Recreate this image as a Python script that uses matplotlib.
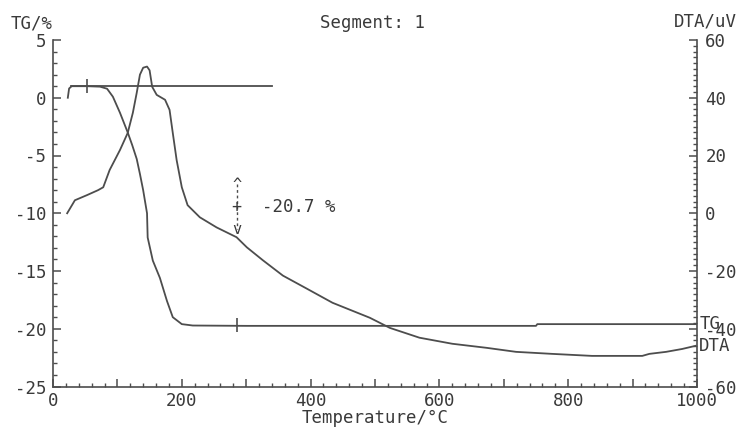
import matplotlib
import matplotlib.pyplot as plt
from matplotlib.ticker import MultipleLocator, FuncFormatter

matplotlib.use("Agg")

# TG curve (temperature in C, mass change in %)
tg_temp = [23, 25, 29, 53, 73, 84, 93, 104, 116, 123, 130, 135, 140, 146, 147,
           155, 166, 177, 186, 200, 217, 300, 500, 750, 752, 1000]
tg_val = [0.0, 0.8, 1.0, 1.0, 0.96, 0.78, 0.09, -1.3, -3.0, -4.1, -5.3, -6.6,
          -8.0, -10.0, -12.1, -14.1, -15.6, -17.6, -19.0, -19.6, -19.72, -19.75,
          -19.75, -19.75, -19.6, -19.6]

# DTA curve (temperature in C, signal in uV)
dta_temp = [22, 34, 53, 70, 78, 88, 104, 116, 124, 130, 135, 140, 146, 150, 154,
            161, 174, 181, 186, 192, 200, 209, 228, 254, 285, 301, 326, 357, 394,
            434, 492, 523, 569, 620, 673, 719, 775, 837, 915, 926, 952, 977, 998]
dta_val = [0.0, 4.5, 6.3, 8.0, 9.0, 15.0, 21.9, 27.8, 34.8, 41.7, 48.0, 50.4, 50.8,
           49.5, 43.8, 41.0, 39.3, 35.8, 27.8, 18.4, 9.0, 2.8, -1.4, -4.9, -8.3,
           -11.8, -16.3, -21.6, -26.1, -31.0, -36.2, -39.7, -43.1, -45.2, -46.6,
           -48.0, -48.7, -49.4, -49.4, -48.7, -48.0, -47.0, -45.9]

# step evaluation: start level line and the two marker points
step_temp = [28, 340]
step_tg = [1.0, 1.0]
mark_temp = [53, 285]
mark_tg = [1.0, -19.7]
step_label = "-20.7 %"
step_arrow_temp = 285
step_arrow_tg = [-7.5, -11.4]

line_c = "#4d4d4d"
text_c = "#3a3a3a"
fs = 12.5
plt.rcParams['font.family'] = ['DejaVu Sans Mono']
plt.rcParams['axes.unicode_minus'] = False

W, H = 741, 428
fig = plt.figure(figsize=(W / 100, H / 100), dpi=100)
ax = fig.add_axes([53 / W, 41.5 / H, 644 / W, 346.5 / H])
ax2 = ax.twinx()

ax.plot(tg_temp, tg_val, color=line_c, lw=1.3)
ax.plot(step_temp, step_tg, color=line_c, lw=1.3)
ax.plot(mark_temp, mark_tg, ls="none", marker="|", ms=10, mew=1.2, color=line_c)
ax2.plot(dta_temp, dta_val, color=line_c, lw=1.3)

# mass-loss annotation
ax.plot([step_arrow_temp] * 2, step_arrow_tg, color=line_c, lw=1.0, ls=(0, (2, 2)))
ax.text(step_arrow_temp, step_arrow_tg[0], "^", ha="center", va="center",
        fontsize=11, color=text_c)
ax.text(step_arrow_temp, step_arrow_tg[1], "v", ha="center", va="center",
        fontsize=11, color=text_c)
ax.text(step_arrow_temp, sum(step_arrow_tg) / 2, "+", ha="center", va="center",
        fontsize=12, color=text_c)
ax.text(step_arrow_temp + 40, sum(step_arrow_tg) / 2, step_label, ha="left",
        va="center", fontsize=fs, color=text_c)

# curve labels at the right end
ax.annotate("TG", (tg_temp[-1], tg_val[-1]), xytext=(2, 0), textcoords="offset points",
            ha="left", va="center", fontsize=fs, color=text_c, annotation_clip=False)
ax2.annotate("DTA", (dta_temp[-1], dta_val[-1]), xytext=(2, 0), textcoords="offset points",
             ha="left", va="center", fontsize=fs, color=text_c, annotation_clip=False)

ax.set_xlim(0, 1000)
ax.set_ylim(-25, 5)
ax2.set_ylim(-60, 60)

for a in (ax, ax2):
    a.spines["top"].set_visible(False)
    for s in a.spines.values():
        s.set_color(line_c)
        s.set_linewidth(1.2)
ax.spines["right"].set_visible(False)
ax2.spines["left"].set_visible(False)
ax2.spines["bottom"].set_visible(False)

ax.xaxis.set_major_locator(MultipleLocator(100))
ax.xaxis.set_minor_locator(MultipleLocator(20))
ax.xaxis.set_major_formatter(FuncFormatter(lambda v, p: f"{v:.0f}" if v % 200 == 0 else ""))
ax.yaxis.set_major_locator(MultipleLocator(5))
ax.yaxis.set_minor_locator(MultipleLocator(1))
ax2.yaxis.set_major_locator(MultipleLocator(20))
ax2.yaxis.set_minor_locator(MultipleLocator(2))

ax.tick_params(axis="both", which="both", direction="in", colors=line_c,
               labelcolor=text_c, labelsize=fs)
ax.tick_params(axis="both", which="major", length=6, width=1.1)
ax.tick_params(axis="both", which="minor", length=3, width=1.0)
ax.tick_params(axis="x", pad=4)
ax.tick_params(axis="y", pad=5)
ax2.tick_params(axis="y", which="both", direction="in", colors=line_c,
                labelcolor=text_c, labelsize=fs, pad=6)
ax2.tick_params(axis="y", which="major", length=6, width=1.1)
ax2.tick_params(axis="y", which="minor", length=3, width=1.0)

ax.set_xlabel("Temperature/°C", fontsize=fs, color=text_c, labelpad=-1)

fig.text(32 / W, 1 - 23 / H, "TG/%", ha="center", va="center", fontsize=fs, color=text_c)
fig.text(373 / W, 1 - 23 / H, "Segment: 1", ha="center", va="center", fontsize=fs, color=text_c)
fig.text(705 / W, 1 - 22 / H, "DTA/uV", ha="center", va="center", fontsize=fs, color=text_c)

fig.savefig("out.png", dpi=100, facecolor="white")
